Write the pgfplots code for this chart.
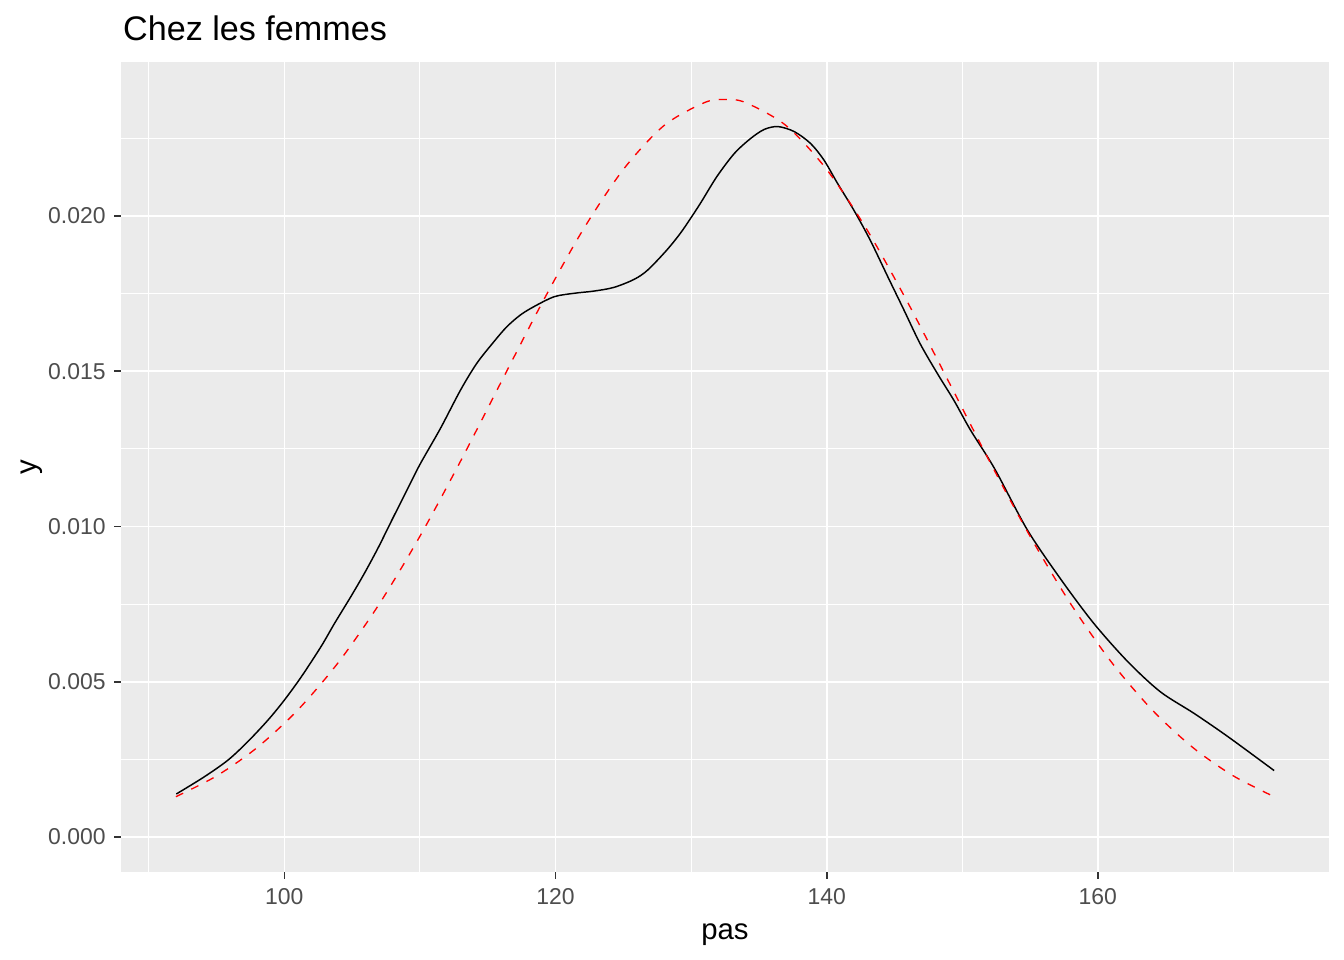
\documentclass[border=0pt]{standalone}
\usepackage{pgfplots}
\pgfplotsset{compat=1.18}
\usepackage{fontspec}
\setmainfont{Liberation Sans}
\definecolor{panelbg}{HTML}{EBEBEB}
\definecolor{gthirty}{HTML}{4D4D4D}
\definecolor{gtwenty}{HTML}{333333}
\begin{document}
\begin{tikzpicture}
\path[use as bounding box] (0,0) rectangle (504bp,360bp);
\begin{axis}[
  at={(45.375bp,33bp)}, anchor=south west,
  scale only axis, width=453bp, height=303.75bp,
  xmin=87.95, xmax=177.05, ymin=-0.001127, ymax=0.02496,
  axis background/.style={fill=panelbg},
  axis line style={draw=none},
  xtick={100,120,140,160},
  minor xtick={90,110,130,150,170},
  ytick={0,0.005,0.010,0.015,0.020},
  minor ytick={0.0025,0.0075,0.0125,0.0175,0.0225},
  scaled y ticks=false,
  /pgf/number format/assume math mode=true,
  yticklabel style={/pgf/number format/fixed, /pgf/number format/fixed zerofill, /pgf/number format/precision=3},
  grid=both,
  major grid style={white, line width=0.6bp},
  minor grid style={white, line width=0.35bp},
  tick align=outside,
  xtick pos=bottom, ytick pos=left,
  major tick length=2.6bp, minor tick length=0pt,
  every tick/.style={gtwenty, line width=0.6bp},
  ticklabel style={font=\fontsize{8.6bp}{10bp}\selectfont, text=gthirty, inner sep=0pt},
  xticklabel style={anchor=north, yshift=-3.4bp},
  yticklabel style={anchor=east, xshift=-3bp},
  xlabel={pas}, ylabel={y},
  label style={font=\fontsize{11bp}{13bp}\selectfont, inner sep=0pt},
  xlabel style={at={(axis description cs:0.5,-0.0831)}, anchor=base},
  ylabel style={at={(axis description cs:-0.0698,0.5)}, anchor=base, rotate=0},
  title={Chez les femmes},
  every axis title shift=0pt,
  title style={font=\fontsize{12.8bp}{15bp}\selectfont, at={(axis description cs:0.0014,1.0263)}, anchor=base west, inner sep=0pt},
]
\addplot[black, line width=0.55bp, smooth, tension=0.5] coordinates {
(92.03,0.001385)
(94.1,0.00194)
(95.85,0.00248)
(97.3,0.00307)
(98.8,0.00377)
(100.0,0.00441)
(101.25,0.00516)
(102.7,0.00613)
(103.7,0.00688)
(104.9,0.00774)
(105.9,0.00849)
(106.9,0.00930)
(107.9,0.01018)
(108.9,0.01105)
(110.0,0.01200)
(111.5,0.01315)
(113.0,0.01440)
(114.2,0.01526)
(115.45,0.01595)
(116.4,0.01643)
(117.4,0.01681)
(118.4,0.01708)
(119.9,0.01740)
(121.35,0.01751)
(122.8,0.01758)
(124.3,0.01770)
(125.8,0.01796)
(126.8,0.01826)
(128.2,0.01890)
(129.3,0.01950)
(130.6,0.02035)
(131.9,0.02127)
(133.2,0.02202)
(134.4,0.02250)
(135.4,0.02279)
(136.4,0.02288)
(137.6,0.02272)
(138.8,0.02234)
(139.8,0.02180)
(140.8,0.02105)
(142.0,0.02019)
(143.2,0.01923)
(144.5,0.01805)
(145.7,0.01697)
(146.9,0.01588)
(148.2,0.01490)
(149.4,0.01405)
(150.6,0.01311)
(152.4,0.01185)
(154.8,0.00989)
(157.3,0.00828)
(159.7,0.00688)
(162.2,0.00565)
(164.6,0.00468)
(167.1,0.00398)
(169.6,0.00323)
(173.0,0.00214)
};
\addplot[red, line width=0.5bp, dash pattern=on 3bp off 3.4bp, smooth] coordinates {
(92,0.001299)
(95,0.001967)
(98,0.002884)
(101,0.004096)
(104,0.005633)
(107,0.007506)
(110,0.009687)
(113,0.012110)
(116,0.014663)
(119,0.017195)
(122,0.019537)
(125,0.021498)
(128,0.022913)
(131,0.023655)
(132.5,0.023750)
(134,0.023655)
(137,0.022913)
(140,0.021498)
(143,0.019537)
(146,0.017195)
(149,0.014663)
(152,0.012110)
(155,0.009687)
(158,0.007506)
(161,0.005633)
(164,0.004096)
(167,0.002884)
(170,0.001967)
(173,0.001299)
};
\end{axis}
\end{tikzpicture}
\end{document}
